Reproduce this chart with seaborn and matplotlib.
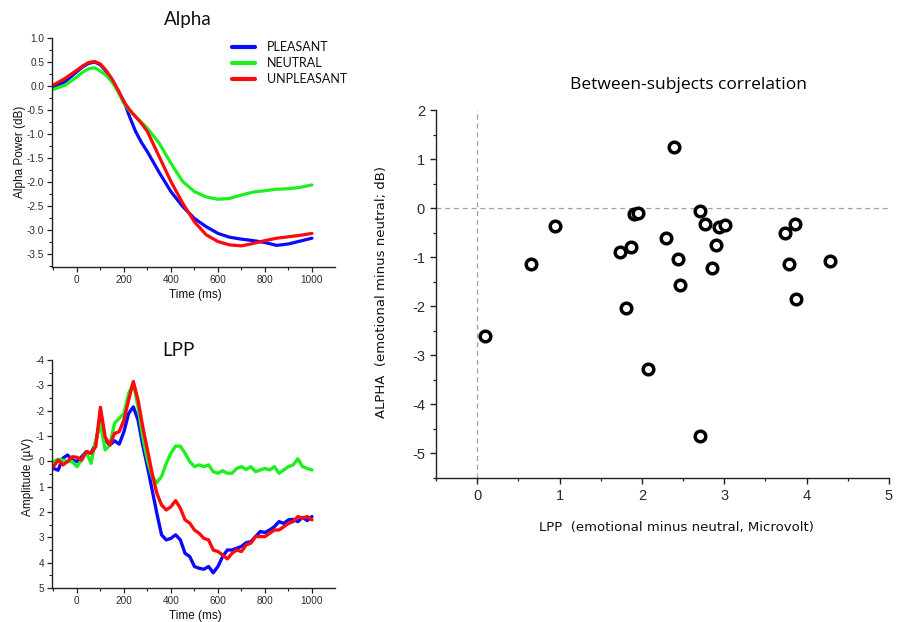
import pandas as pd
import numpy as np
import matplotlib
matplotlib.use("Agg")
import matplotlib.pyplot as plt
import seaborn as sns
from matplotlib.ticker import MultipleLocator

# ---- data ----
conditions = ["PLEASANT", "NEUTRAL", "UNPLEASANT"]
colors = {"PLEASANT": "#0a0aff", "NEUTRAL": "#1ef01e", "UNPLEASANT": "#ff0a0a"}

alpha_time = [-100, -50, 0, 25, 50, 75, 100, 125, 150, 175, 200, 225, 250, 275, 300,
              350, 400, 450, 500, 550, 600, 650, 700, 750, 800, 850, 900, 950, 1000]
alpha_pleasant = [-0.03, 0.09, 0.30, 0.40, 0.47, 0.50, 0.44, 0.30, 0.12, -0.10, -0.32,
                  -0.65, -0.95, -1.18, -1.37, -1.80, -2.20, -2.51, -2.76, -2.93, -3.07,
                  -3.15, -3.19, -3.22, -3.26, -3.32, -3.29, -3.23, -3.17]
alpha_neutral = [-0.07, 0.02, 0.19, 0.29, 0.36, 0.38, 0.31, 0.22, 0.08, -0.12, -0.36,
                 -0.52, -0.64, -0.76, -0.88, -1.19, -1.61, -1.99, -2.20, -2.31, -2.36,
                 -2.34, -2.27, -2.21, -2.18, -2.15, -2.14, -2.11, -2.06]
alpha_unpleasant = [0.02, 0.16, 0.33, 0.42, 0.49, 0.51, 0.46, 0.32, 0.14, -0.08, -0.33,
                    -0.50, -0.64, -0.78, -0.95, -1.47, -1.99, -2.44, -2.83, -3.10, -3.24,
                    -3.31, -3.33, -3.28, -3.22, -3.17, -3.14, -3.11, -3.07]

lpp_time = [-100, -80, -60, -40, -20, 0, 20, 40, 60, 80, 100, 120, 140, 160, 180, 200,
            220, 240, 260, 280, 300, 320, 340, 360, 380, 400, 420, 440, 460, 480, 500,
            520, 540, 560, 580, 600, 620, 640, 660, 680, 700, 720, 740, 760, 780, 800,
            820, 840, 860, 880, 900, 920, 940, 960, 980, 1000]
lpp_pleasant = [0.28, 0.35, -0.12, -0.25, -0.05, 0.01, -0.18, -0.38, -0.32, -0.71, -1.76,
                -0.84, -0.64, -0.81, -0.68, -1.17, -1.89, -2.15, -1.63, -0.64, 0.21, 1.13,
                2.05, 2.90, 3.10, 3.04, 2.90, 3.10, 3.63, 3.76, 4.15, 4.22, 4.26, 4.15,
                4.40, 4.15, 3.76, 3.50, 3.50, 3.43, 3.36, 3.21, 3.17, 2.97, 2.77, 2.81,
                2.71, 2.58, 2.38, 2.45, 2.31, 2.29, 2.38, 2.21, 2.34, 2.18]
lpp_neutral = [0.01, -0.08, -0.05, 0.01, 0.01, 0.21, -0.05, -0.38, 0.08, -0.84, -1.50,
               -0.45, -0.64, -1.50, -1.70, -1.89, -2.68, -3.08, -2.15, -0.97, -0.05, 0.60,
               0.84, 0.60, 0.08, -0.32, -0.60, -0.60, -0.32, 0.01, 0.21, 0.14, 0.21, 0.14,
               0.41, 0.47, 0.37, 0.47, 0.47, 0.28, 0.21, 0.32, 0.21, 0.41, 0.34, 0.28,
               0.34, 0.21, 0.47, 0.34, 0.21, 0.14, -0.10, 0.21, 0.28, 0.34]
lpp_unpleasant = [0.21, -0.05, 0.14, 0.01, -0.18, -0.16, -0.05, -0.38, -0.32, -0.58, -2.13,
                  -0.97, -0.64, -1.10, -1.17, -1.63, -2.42, -3.15, -2.42, -1.37, -0.45, 0.47,
                  1.26, 1.72, 1.92, 1.79, 1.55, 1.85, 2.31, 2.44, 2.71, 2.84, 3.04, 3.10,
                  3.50, 3.56, 3.70, 3.85, 3.63, 3.50, 3.56, 3.30, 3.23, 2.97, 2.97, 2.97,
                  2.84, 2.71, 2.71, 2.58, 2.45, 2.38, 2.18, 2.25, 2.18, 2.31]

lpp_diff = [2.39, 0.95, 0.65, 1.91, 1.95, 1.73, 1.87, 2.29, 2.44, 2.46, 1.81, 2.71, 2.77,
            2.93, 3.01, 2.90, 2.85, 3.74, 3.86, 3.79, 3.87, 4.28, 0.10, 2.08, 2.71]
alpha_diff = [1.24, -0.37, -1.13, -0.12, -0.10, -0.90, -0.80, -0.60, -1.04, -1.56, -2.04,
              -0.06, -0.33, -0.38, -0.34, -0.75, -1.23, -0.51, -0.32, -1.14, -1.85, -1.07,
              -2.60, -3.28, -4.65]

# ---- long tables for seaborn ----
alpha_df = pd.concat([
    pd.DataFrame({"time": alpha_time, "value": v, "cond": c})
    for c, v in zip(conditions, [alpha_pleasant, alpha_neutral, alpha_unpleasant])
])
lpp_df = pd.concat([
    pd.DataFrame({"time": lpp_time, "value": v, "cond": c})
    for c, v in zip(conditions, [lpp_pleasant, lpp_neutral, lpp_unpleasant])
])
corr_df = pd.DataFrame({"lpp": lpp_diff, "alpha": alpha_diff})

sns.set_theme(style="ticks")
plt.rcParams["font.family"] = ["Liberation Sans", "DejaVu Sans"]
plt.rcParams.update({
    "axes.edgecolor": "#222222", "axes.linewidth": 1.0,
    "xtick.color": "#222222", "ytick.color": "#222222",
    "xtick.labelcolor": "#2a2a2a", "ytick.labelcolor": "#2a2a2a",
    "xtick.direction": "out", "ytick.direction": "out",
    "axes.unicode_minus": False, "text.color": "#111111",
})

W, H = 907, 622
fig = plt.figure(figsize=(W / 100, H / 100), dpi=100)


def box(l, t, r, b):
    return [l / W, 1 - b / H, (r - l) / W, (b - t) / H]


def small_panel(ax):
    ax.set_xlim(-106, 1098)
    ax.xaxis.set_major_locator(MultipleLocator(200))
    ax.xaxis.set_minor_locator(MultipleLocator(100))
    ax.tick_params(which="major", labelsize=7.2, length=3.5, width=0.9, pad=2)
    ax.tick_params(which="minor", length=2, width=0.8)
    ax.set_xticks([0, 200, 400, 600, 800, 1000])
    sns.despine(ax=ax)


# ---- Alpha panel ----
ax1 = fig.add_axes(box(52, 38, 335, 267))
sns.lineplot(data=alpha_df, x="time", y="value", hue="cond", palette=colors,
             linewidth=2.3, ax=ax1)
small_panel(ax1)
ax1.set_ylim(-3.77, 1.0)
ax1.yaxis.set_minor_locator(MultipleLocator(0.25))
ax1.set_yticks(np.arange(-3.5, 1.01, 0.5))
ax1.set_xlabel("")
ax1.set_ylabel("")
leg = ax1.legend(loc="upper left", bbox_to_anchor=(0.595, 1.035), frameon=False,
                 handlelength=1.9, handletextpad=0.9, labelspacing=0.32,
                 prop={"family": "Lato", "size": 9})
for line in leg.get_lines():
    line.set_linewidth(3)
fig.text(188 / W, 1 - 20 / H, "Alpha", ha="center", va="center", fontsize=13.5,
         family="Lato")
fig.text(195 / W, 1 - 295 / H, "Time (ms)", ha="center", va="center", fontsize=8.5)
fig.text(20 / W, 1 - 152 / H, "Alpha Power (dB)", ha="center", va="center",
         rotation=90, fontsize=8.5)

# ---- LPP panel ----
ax2 = fig.add_axes(box(52, 360, 335, 588))
sns.lineplot(data=lpp_df, x="time", y="value", hue="cond", palette=colors,
             linewidth=2.4, legend=False, ax=ax2)
small_panel(ax2)
ax2.set_ylim(5, -4)
ax2.yaxis.set_major_locator(MultipleLocator(1))
ax2.yaxis.set_minor_locator(MultipleLocator(0.5))
ax2.set_xlabel("")
ax2.set_ylabel("")
fig.text(178 / W, 1 - 350 / H, "LPP", ha="center", va="center", fontsize=13.5,
         family="Lato")
fig.text(195 / W, 1 - 616 / H, "Time (ms)", ha="center", va="center", fontsize=8.5)
fig.text(28 / W, 1 - 477 / H, "Amplitude (\u00b5V)", ha="center", va="center",
         rotation=90, fontsize=8.5)

# ---- Between-subjects scatter ----
ax3 = fig.add_axes(box(436, 110, 889, 478))
ax3.axhline(0, color="#a0a0a0", lw=0.9, ls=(0, (4, 3)), zorder=0)
ax3.axvline(0, color="#a0a0a0", lw=0.9, ls=(0, (4, 3)), zorder=0)
sns.scatterplot(data=corr_df, x="lpp", y="alpha", marker="o", s=58,
                facecolor="white", edgecolor="black", linewidth=2.5, ax=ax3)
ax3.set_xlim(-0.5, 5)
ax3.set_ylim(-5.5, 2)
ax3.xaxis.set_major_locator(MultipleLocator(1))
ax3.xaxis.set_minor_locator(MultipleLocator(0.5))
ax3.yaxis.set_major_locator(MultipleLocator(1))
ax3.yaxis.set_minor_locator(MultipleLocator(0.5))
ax3.tick_params(which="major", labelsize=10.5, length=4, width=1.0, pad=4)
ax3.tick_params(which="minor", length=2.5, width=0.9)
ax3.set_xlabel("")
ax3.set_ylabel("")
sns.despine(ax=ax3)
fig.text(688 / W, 1 - 85 / H, "Between-subjects correlation", ha="center",
         va="center", fontsize=12.5, family="Open Sans", color="black")
fig.text(676 / W, 1 - 528 / H, "LPP  (emotional minus neutral, Microvolt)",
         ha="center", va="center", fontsize=9.5, family="DejaVu Sans")
fig.text(381 / W, 1 - 292 / H, "ALPHA  (emotional minus neutral; dB)",
         ha="center", va="center", rotation=90, fontsize=9.5, family="DejaVu Sans")

fig.savefig("out.png", dpi=100)
